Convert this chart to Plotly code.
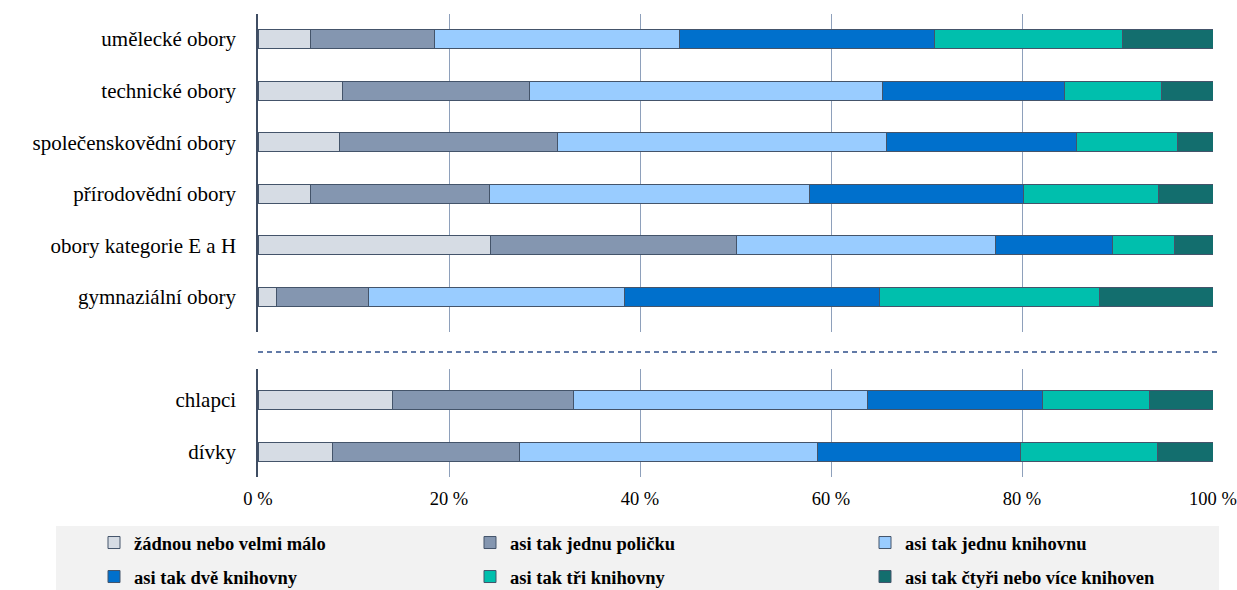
import plotly.graph_objects as go

# ---- data ----
categories_top = ["umělecké obory", "technické obory", "společenskovědní obory",
                  "přírodovědní obory", "obory kategorie E a H", "gymnaziální obory"]
categories_bottom = ["chlapci", "dívky"]

series_names = ["žádnou nebo velmi málo", "asi tak jednu poličku", "asi tak jednu knihovnu",
                "asi tak dvě knihovny", "asi tak tři knihovny", "asi tak čtyři nebo více knihoven"]

zadnou_top = [5.5, 8.8, 8.5, 5.5, 24.3, 1.9]
policka_top = [13.0, 19.6, 22.9, 18.7, 25.8, 9.7]
jedna_top = [25.6, 37.0, 34.4, 33.5, 27.1, 26.8]
dve_top = [26.7, 19.1, 19.9, 22.5, 12.3, 26.7]
tri_top = [19.7, 10.1, 10.6, 14.1, 6.5, 23.0]
ctyri_top = [9.5, 5.4, 3.7, 5.7, 4.0, 11.9]

zadnou_bottom = [14.1, 7.8]
policka_bottom = [18.9, 19.6]
jedna_bottom = [30.8, 31.2]
dve_bottom = [18.3, 21.2]
tri_bottom = [11.2, 14.4]
ctyri_bottom = [6.7, 5.8]

x_tickvals = [0, 20, 40, 60, 80, 100]
x_ticktext = ["0 %", "20 %", "40 %", "60 %", "80 %", "100 %"]

# ---- styles ----
colors = ["#d6dce4", "#8496b0", "#99ccff", "#0070cc", "#00bfad", "#136e6e"]
outline = "#44546a"
FONT = "Liberation Serif"

top_values = [zadnou_top, policka_top, jedna_top, dve_top, tri_top, ctyri_top]
bottom_values = [zadnou_bottom, policka_bottom, jedna_bottom, dve_bottom, tri_bottom, ctyri_bottom]

fig = go.Figure()
legend_ids = ["legend", "legend2", "legend3", "legend4", "legend5", "legend6"]
for i, name in enumerate(series_names):
    fig.add_trace(go.Bar(
        y=categories_top, x=top_values[i], name=name, orientation="h",
        marker=dict(color=colors[i], line=dict(color=outline, width=1)),
        xaxis="x", yaxis="y", legendgroup=name, legend=legend_ids[i], showlegend=True,
    ))
    fig.add_trace(go.Bar(
        y=categories_bottom, x=bottom_values[i], name=name, orientation="h",
        marker=dict(color=colors[i], line=dict(color=outline, width=1)),
        xaxis="x2", yaxis="y2", legendgroup=name, showlegend=False,
    ))

# pixel geometry helpers (plot area: x 258..1213, y 14..477)
PL, PR, PT, PB = 258, 1213, 14, 477
W, H = PR - PL, PB - PT
def px(x):
    return (x - PL) / W
def py(y):
    return (PB - y) / H

legend_common = dict(
    orientation="h", bgcolor="rgba(0,0,0,0)", borderwidth=0,
    font=dict(family=FONT, size=18.5, color="#000000", weight="bold"),
    xanchor="left", yanchor="middle", itemclick=False, itemdoubleclick=False,
)
col_text_x = [134, 510, 905]
row_y = [543, 577]
legend_layout = {}
for i, lid in enumerate(legend_ids):
    r, c = divmod(i, 3)
    legend_layout[lid] = dict(legend_common, x=px(col_text_x[c] - 40), y=py(row_y[r]))

axis_font = dict(family=FONT, size=18.5, color="#000000")
grid_color = "#8ea0bb"

fig.update_layout(
    width=1237, height=590,
    margin=dict(l=PL, r=1237 - PR, t=PT, b=590 - PB, autoexpand=False),
    paper_bgcolor="white", plot_bgcolor="white",
    barmode="stack", bargap=0.632,
    font=dict(family=FONT, color="#000000"),
    xaxis=dict(domain=[0, 1], anchor="y", range=[0, 100], tickvals=x_tickvals,
               ticktext=x_ticktext, showticklabels=False, showgrid=True,
               gridcolor=grid_color, gridwidth=1, zeroline=False, showline=False,
               automargin=False, fixedrange=True),
    xaxis2=dict(domain=[0, 1], anchor="y2", range=[0, 100], tickvals=x_tickvals,
                ticktext=x_ticktext, showticklabels=True, showgrid=True,
                gridcolor=grid_color, gridwidth=1, zeroline=False, showline=False,
                tickfont=axis_font, ticks="", ticklabelstandoff=8, automargin=False,
                fixedrange=True),
    yaxis=dict(domain=[py(332), 1], anchor="x", categoryorder="array",
               categoryarray=categories_top[::-1], range=[-0.678, 5.485],
               showline=True, linecolor="#3f4d63",
               linewidth=1.5, ticks="", ticklabelstandoff=16, automargin=False,
               tickfont=dict(family=FONT, size=21, color="#000000"), fixedrange=True),
    yaxis2=dict(domain=[0, py(369)], anchor="x2", categoryorder="array",
                categoryarray=categories_bottom[::-1], range=[-0.489, 1.6],
                showline=True, linecolor="#3f4d63",
                linewidth=1.5, ticks="", ticklabelstandoff=16, automargin=False,
                tickfont=dict(family=FONT, size=21, color="#000000"), fixedrange=True),
    shapes=[
        dict(type="rect", xref="paper", yref="paper", x0=px(56), x1=px(1219),
             y0=py(526), y1=py(600), fillcolor="#f2f2f2", line=dict(width=0), layer="below"),
        dict(type="line", xref="paper", yref="paper", x0=px(258), x1=px(1218),
             y0=py(352), y1=py(352), line=dict(color="#2f4f8a", width=1.5, dash="5px,4px")),
    ],
    **legend_layout,
)

fig.write_html("out.html")
